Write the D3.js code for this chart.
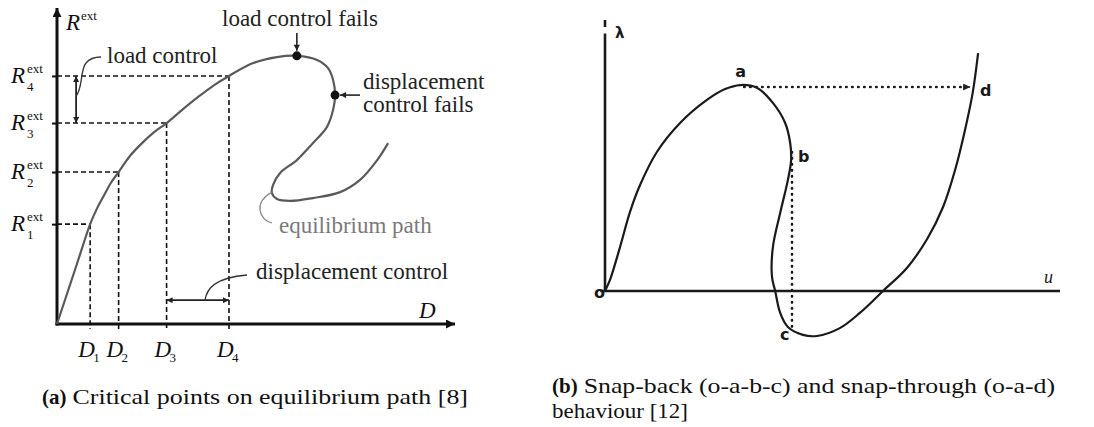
<!DOCTYPE html>
<html>
<head>
<meta charset="utf-8">
<script src="https://cdn.jsdelivr.net/npm/d3@7"></script>
<style>
  html, body { margin: 0; padding: 0; background: #fff; }
  svg { display: block; }
</style>
</head>
<body>
<svg id="fig" width="1094" height="427"></svg>
<script>
// ---------- panel (a): equilibrium path in normalised (D, R^ext) ----------
const pathD = [0, 2.3, 4.6, 6.7, 8.5, 10.3, 12.1, 13.8, 15.8, 18.7, 21.8, 24.9, 28.1,
  32.1, 36.2, 40.3, 44.1, 50.3, 56.4, 61.5, 66.7, 69.5, 70.8, 71.3, 70.8, 69.2, 65.6,
  61.5, 57.2, 55.4, 55.1, 56.4, 59.7, 65.6, 72.6, 77.7, 82.1, 84.9];
const pathR = [0, 8.6, 17.2, 25.2, 31.8, 36.9, 41.1, 44.9, 48.4, 53.5, 57.6, 61.1, 64.0,
  68.2, 72.3, 76.1, 79.0, 83.1, 85.0, 85.4, 84.1, 81.5, 77.7, 72.9, 68.2, 62.7, 57.6,
  52.2, 48.1, 44.3, 41.7, 39.8, 39.2, 40.1, 42.0, 45.9, 52.2, 57.6];
const levelD = [8.5, 15.8, 28.1, 44.1];
const levelR = [31.8, 48.4, 64.0, 79.0];
const levelIndex = ["1", "2", "3", "4"];
const loadLimit = [61.5, 85.4];   // load control fails (limit point in R)
const dispLimit = [71.3, 72.9];   // displacement control fails (limit point in D)

// ---------- panel (b): load factor λ against displacement u ----------
const snapU = [0, 0.2, 1.1, 3.3, 5.5, 7.7, 11.4, 16.5, 22.4, 26.4, 29.7, 33.4, 36.9, 39.6,
  40.7, 40.9, 40.2, 38.5, 36.9, 36.7, 37.4, 38.5, 40.2, 43.5, 46.6, 51.6, 56.0, 61.1,
  66.4, 70.8, 74.3, 77.0, 79.2, 80.8, 82.0];
const snapL = [0, 0.7, 4.1, 16.2, 29.2, 39.1, 51.3, 62.0, 70.5, 74.5, 76.0, 75.0, 69.4, 62.0,
  54.6, 48.3, 41.0, 28.8, 16.2, 5.2, 0, -8.1, -13.3, -16.2, -16.6, -13.7, -8.1, 0,
  8.6, 19.2, 31.0, 45.0, 60.0, 73.0, 87.8];
const pointName = ["a", "b", "c", "d"];
const pointU = [29.7, 40.9, 41.1, 80.9];
const pointL = [76.0, 48.3, -13.3, 76.0];

const captionA = ["(a)", "Critical points on equilibrium path [8]"];
const captionB = ["(b)", "Snap-back (o-a-b-c) and snap-through (o-a-d)", "behaviour [12]"];

const svg = d3.select("#fig");
const defs = svg.append("defs");
const SERIF = "'Liberation Serif', 'Times New Roman', serif";
const SANS = "'DejaVu Sans', sans-serif";

function addMarker(id, color, w, h) {
  defs.append("marker")
    .attr("id", id)
    .attr("viewBox", "0 0 10 10")
    .attr("refX", 10).attr("refY", 5)
    .attr("markerUnits", "userSpaceOnUse")
    .attr("markerWidth", w).attr("markerHeight", h)
    .attr("orient", "auto-start-reverse")
    .append("path")
    .attr("d", "M0,0 L10,5 L0,10 Z")
    .attr("fill", color);
}
addMarker("axisHead", "#111", 9, 9);
addMarker("smallHead", "#222", 7, 6);
addMarker("dotHead", "#222", 8, 7);

// =================== panel (a) ===================
const xA = d3.scaleLinear().domain([0, 100]).range([57, 447]);
const yA = d3.scaleLinear().domain([0, 100]).range([324, 10]);
const gA = svg.append("g");

// dashed guides from each critical level to the curve
const guides = gA.append("g")
  .attr("stroke", "#111").attr("stroke-width", 1.6)
  .attr("stroke-dasharray", "5,3").attr("fill", "none");
levelD.forEach((d, i) => {
  guides.append("line")
    .attr("x1", xA(0)).attr("x2", xA(d))
    .attr("y1", yA(levelR[i])).attr("y2", yA(levelR[i]));
  guides.append("line")
    .attr("x1", xA(d)).attr("x2", xA(d))
    .attr("y1", yA(levelR[i])).attr("y2", yA(0) + 5);
});

// axes with small ticks at the R levels
const axA_y = gA.append("g").attr("transform", `translate(${xA(0)},0)`)
  .call(d3.axisLeft(yA).tickValues(levelR).tickSize(5).tickSizeOuter(0).tickFormat(""));
const axA_x = gA.append("g").attr("transform", `translate(0,${yA(0)})`)
  .call(d3.axisBottom(xA).tickValues([]).tickSizeOuter(0));
[axA_y, axA_x].forEach(ax => {
  ax.select(".domain").attr("stroke", "#111").attr("stroke-width", 3)
    .attr("marker-end", "url(#axisHead)");
  ax.selectAll(".tick line").attr("stroke", "#111").attr("stroke-width", 2);
});
axA_y.select(".domain").attr("d", `M0,${yA(0) + 1.5}V${yA(100) - 2}`);
axA_x.select(".domain").attr("d", `M${xA(0) - 1.5},0H${xA(100) + 8}`);

// equilibrium path
const lineA = d3.line()
  .x(i => xA(pathD[i])).y(i => yA(pathR[i]))
  .curve(d3.curveCatmullRom.alpha(0.5));
gA.append("path")
  .attr("d", lineA(d3.range(pathD.length)))
  .attr("fill", "none").attr("stroke", "#5a5a5a").attr("stroke-width", 2.2);

// limit points
gA.selectAll("circle.limit").data([loadLimit, dispLimit]).join("circle")
  .attr("cx", d => xA(d[0])).attr("cy", d => yA(d[1])).attr("r", 4.5)
  .attr("fill", "#111");

// pointer arrows to the limit points
gA.append("line")
  .attr("x1", xA(loadLimit[0])).attr("x2", xA(loadLimit[0]))
  .attr("y1", 33).attr("y2", yA(loadLimit[1]) - 5)
  .attr("stroke", "#222").attr("stroke-width", 1.6).attr("marker-end", "url(#smallHead)");
gA.append("line")
  .attr("x1", 360).attr("x2", xA(dispLimit[0]) + 5)
  .attr("y1", yA(dispLimit[1])).attr("y2", yA(dispLimit[1]))
  .attr("stroke", "#222").attr("stroke-width", 1.6).attr("marker-end", "url(#smallHead)");

// load-control increment (R3 -> R4) and displacement-control increment (D3 -> D4)
const loadX = xA(4.9);
gA.append("line")
  .attr("x1", loadX).attr("x2", loadX)
  .attr("y1", yA(levelR[2])).attr("y2", yA(levelR[3]))
  .attr("stroke", "#222").attr("stroke-width", 1.8)
  .attr("marker-start", "url(#smallHead)").attr("marker-end", "url(#smallHead)");
const dispY = yA(7.6);
gA.append("line")
  .attr("x1", xA(levelD[2])).attr("x2", xA(levelD[3]))
  .attr("y1", dispY).attr("y2", dispY)
  .attr("stroke", "#222").attr("stroke-width", 1.8)
  .attr("marker-start", "url(#smallHead)").attr("marker-end", "url(#smallHead)");

// leader curves for the annotations
const leaders = gA.append("g").attr("fill", "none").attr("stroke-width", 1.3);
leaders.append("path").attr("stroke", "#333")
  .attr("d", `M${loadX},96 C83,88 80,70 86,63 C90,58 95,57 101,57`);
leaders.append("path").attr("stroke", "#333")
  .attr("d", `M205,${dispY} C207,288 215,278 247,275`);
leaders.append("path").attr("stroke", "#888")
  .attr("d", "M272,192 C265,196 259,202 260,210 C261,217 265,221 272,223");

// annotation texts
const ann = gA.append("g").attr("font-family", SERIF).attr("font-size", 23).attr("fill", "#222");
ann.append("text").attr("x", 222).attr("y", 26).text("load control fails");
ann.append("text").attr("x", 107).attr("y", 63).text("load control");
ann.append("text").attr("x", 363).attr("y", 89).text("displacement");
ann.append("text").attr("x", 363).attr("y", 112).text("control fails");
ann.append("text").attr("x", 256).attr("y", 279).text("displacement control");
ann.append("text").attr("x", 279).attr("y", 233).attr("fill", "#7a7a7a").text("equilibrium path");

// axis titles
const ttl = gA.append("g").attr("font-family", SERIF).attr("fill", "#111");
ttl.append("text").attr("x", 66).attr("y", 30).attr("font-size", 23)
  .attr("font-style", "italic").text("R");
ttl.append("text").attr("x", 81).attr("y", 20).attr("font-size", 13).text("ext");
ttl.append("text").attr("x", 419).attr("y", 318).attr("font-size", 23)
  .attr("font-style", "italic").text("D");

// level labels R_i^ext and D_i
levelR.forEach((r, i) => {
  const y = yA(r);
  ttl.append("text").attr("x", 11).attr("y", y + 7).attr("font-size", 23)
    .attr("font-style", "italic").text("R");
  ttl.append("text").attr("x", 27).attr("y", y - 3).attr("font-size", 13).text("ext");
  ttl.append("text").attr("x", 27).attr("y", y + 15).attr("font-size", 13).text(levelIndex[i]);
});
levelD.forEach((d, i) => {
  const x = xA(d);
  ttl.append("text").attr("x", x - 12).attr("y", 357).attr("font-size", 23)
    .attr("font-style", "italic").text("D");
  ttl.append("text").attr("x", x + 3).attr("y", 362).attr("font-size", 13).text(levelIndex[i]);
});

// =================== panel (b) ===================
const xB = d3.scaleLinear().domain([0, 100]).range([605, 1060]);
const yB = d3.scaleLinear().domain([0, 100]).range([291, 20]);
const gB = svg.append("g");

const axB_x = gB.append("g").attr("transform", `translate(0,${yB(0)})`)
  .call(d3.axisBottom(xB).tickValues([]).tickSizeOuter(0));
const axB_y = gB.append("g").attr("transform", `translate(${xB(0)},0)`)
  .call(d3.axisLeft(yB).tickValues([]).tickSizeOuter(0));
[axB_x, axB_y].forEach(ax => ax.select(".domain")
  .attr("stroke", "#1a1a1a").attr("stroke-width", 2.6));
axB_x.select(".domain").attr("d", `M${xB(-1)},0H${xB(100)}`);
axB_y.select(".domain").attr("d", `M0,${yB(0)}V${yB(95)}M0,${yB(97.4)}V${yB(100)}`);

// equilibrium path o-a-b-c-d
const lineB = d3.line()
  .x(i => xB(snapU[i])).y(i => yB(snapL[i]))
  .curve(d3.curveCatmullRom.alpha(0.5));
gB.append("path")
  .attr("d", lineB(d3.range(snapU.length)))
  .attr("fill", "none").attr("stroke", "#1a1a1a").attr("stroke-width", 2.2);

// snap-through a -> d and snap-back b -> c jumps
const dotted = gB.append("g").attr("fill", "none").attr("stroke", "#1a1a1a")
  .attr("stroke-width", 2.6).attr("stroke-linecap", "round").attr("stroke-dasharray", "0.5,5.5");
dotted.append("line")
  .attr("x1", xB(pointU[0]) + 4).attr("x2", xB(pointU[3]) - 6)
  .attr("y1", yB(pointL[0]) + 2).attr("y2", yB(pointL[0]) + 2);
dotted.append("line")
  .attr("x1", xB(pointU[2])).attr("x2", xB(pointU[2]))
  .attr("y1", yB(pointL[1]) - 8).attr("y2", yB(pointL[2]));
gB.append("line")
  .attr("x1", xB(pointU[3]) - 9).attr("x2", xB(pointU[3]) - 3)
  .attr("y1", yB(pointL[0]) + 2).attr("y2", yB(pointL[0]) + 2)
  .attr("stroke", "#1a1a1a").attr("stroke-width", 1.4).attr("marker-end", "url(#dotHead)");

// point labels
const lblB = gB.append("g").attr("font-family", SANS).attr("font-weight", "bold")
  .attr("font-size", 16).attr("fill", "#1a1a1a");
const lblOffset = [[-5, -8], [7, 2], [-12, 13], [7, 11]];
pointName.forEach((n, i) => {
  lblB.append("text")
    .attr("x", xB(pointU[i]) + lblOffset[i][0])
    .attr("y", yB(pointL[i]) + lblOffset[i][1])
    .text(n);
});
lblB.append("text").attr("x", xB(0) - 11).attr("y", yB(0) + 7).text("o");
lblB.append("text").attr("x", xB(0) + 10).attr("y", 38).attr("font-size", 15).text("λ");
gB.append("text").attr("x", xB(96.5)).attr("y", yB(0) - 8)
  .attr("font-family", SERIF).attr("font-style", "italic").attr("font-size", 18)
  .attr("fill", "#1a1a1a").text("u");

// =================== captions ===================
function caption(x, y, parts, restWidth) {
  const g = svg.append("g").attr("font-family", SERIF).attr("font-size", 21).attr("fill", "#111");
  const bold = g.append("text").attr("x", x).attr("y", y).attr("font-weight", "bold").text(parts[0]);
  const bw = bold.node().getComputedTextLength();
  g.append("text").attr("x", x + bw + 6).attr("y", y)
    .attr("textLength", restWidth - bw - 6).attr("lengthAdjust", "spacingAndGlyphs")
    .text(parts[1]);
  return g;
}
caption(42, 404, captionA, 426);
const cb = caption(552, 393, captionB, 503);
cb.append("text").attr("x", 552).attr("y", 418)
  .attr("textLength", 136).attr("lengthAdjust", "spacingAndGlyphs").text(captionB[2]);
</script>
</body>
</html>
